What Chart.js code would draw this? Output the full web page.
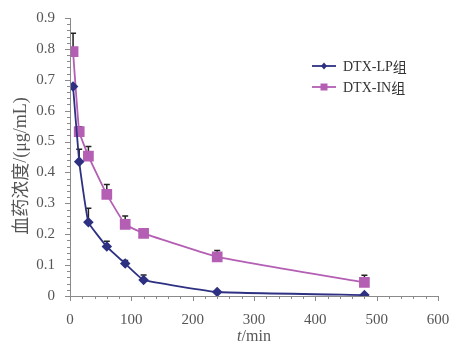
<!DOCTYPE html>
<html>
<head>
<meta charset="utf-8">
<script src="https://cdn.jsdelivr.net/npm/chart.js@4/dist/chart.umd.min.js"></script>
<style>
  html, body { margin: 0; background: #fff; }
  #wrap { width: 449px; height: 344px; }
</style>
</head>
<body>
<div id="wrap"><canvas id="c"></canvas></div>
<script>
const times = [5, 15, 30, 60, 90, 120, 240, 480];
const lpMean = [0.678, 0.435, 0.239, 0.160, 0.105, 0.052, 0.013, 0.003];
const lpErr = [0, 0.04, 0.045, 0.017, 0.01, 0.016, 0.003, 0.002];
const inMean = [0.791, 0.532, 0.453, 0.329, 0.232, 0.203, 0.127, 0.044];
const inErr = [0.06, 0.016, 0.031, 0.032, 0.027, 0.013, 0.02, 0.023];
const seriesNames = ["DTX-LP组", "DTX-IN组"];
const yTitle = ["血药浓度", "/(μg/mL)"];

const LP_COLOR = "#2e3182";
const IN_COLOR = "#b45fb4";
const AXIS_COLOR = "#8a8a8a";
const TEXT_COLOR = "#555";
const SERIF = "'Liberation Serif', 'DejaVu Serif', serif";
const CJK = "'Noto Sans CJK SC'";

const toPoints = (mean) => times.map((t, i) => ({ x: t, y: mean[i] }));

// upper-only error bars, drawn under the markers
const errorBars = {
  id: "errorBars",
  beforeDatasetsDraw(chart) {
    const { ctx, scales: { x, y } } = chart;
    const errs = [lpErr, inErr];
    const means = [lpMean, inMean];
    ctx.save();
    ctx.strokeStyle = "#222";
    ctx.lineWidth = 1.5;
    errs.forEach((err, s) => {
      times.forEach((t, i) => {
        if (!err[i]) return;
        const px = x.getPixelForValue(t);
        const y0 = y.getPixelForValue(means[s][i]);
        const y1 = y.getPixelForValue(means[s][i] + err[i]);
        ctx.beginPath();
        ctx.moveTo(px, y0);
        ctx.lineTo(px, y1);
        ctx.moveTo(px - 3, y1);
        ctx.lineTo(px + 3, y1);
        ctx.stroke();
      });
    });
    ctx.restore();
  }
};

// axis lines with major and minor ticks, titles, legend
const axesDraw = {
  id: "axesDraw",
  afterDraw(chart) {
    const { ctx, chartArea: a, scales: { x, y } } = chart;
    ctx.save();
    ctx.strokeStyle = AXIS_COLOR;
    ctx.lineWidth = 1;
    ctx.beginPath();
    ctx.moveTo(a.left + 0.5, a.top);
    ctx.lineTo(a.left + 0.5, a.bottom + 0.5);
    ctx.lineTo(a.right, a.bottom + 0.5);
    for (let v = 0; v <= 600; v += 20) {
      const px = Math.round(x.getPixelForValue(v)) + 0.5;
      const len = v % 100 === 0 ? 5 : 3;
      ctx.moveTo(px, a.bottom);
      ctx.lineTo(px, a.bottom + len);
    }
    for (let k = 0; k <= 45; k++) {
      const py = Math.round(y.getPixelForValue(k * 0.02)) + 0.5;
      const len = k % 5 === 0 ? 5 : 3;
      ctx.moveTo(a.left, py);
      ctx.lineTo(a.left - len, py);
    }
    ctx.stroke();

    // x title with italic t
    ctx.fillStyle = TEXT_COLOR;
    ctx.textBaseline = "alphabetic";
    const cx = (a.left + a.right) / 2;
    ctx.font = "italic 16px " + SERIF;
    const wT = ctx.measureText("t").width;
    ctx.font = "16px " + SERIF;
    const wRest = ctx.measureText("/min").width;
    const startX = cx - (wT + wRest) / 2;
    ctx.font = "italic 16px " + SERIF;
    ctx.fillText("t", startX, 341);
    ctx.font = "16px " + SERIF;
    ctx.fillText("/min", startX + wT, 341);

    // y title, rotated
    ctx.save();
    ctx.translate(20, 166);
    ctx.rotate(-Math.PI / 2);
    ctx.textBaseline = "middle";
    ctx.font = "18px " + CJK;
    const w1 = ctx.measureText(yTitle[0]).width;
    ctx.font = "18px " + SERIF;
    const w2 = ctx.measureText(yTitle[1]).width;
    const sx = -(w1 + w2) / 2;
    ctx.font = "18px " + CJK;
    ctx.fillText(yTitle[0], sx, 0);
    ctx.font = "18px " + SERIF;
    ctx.fillText(yTitle[1], sx + w1, 1);
    ctx.restore();

    // legend: line + marker + label
    const colors = [LP_COLOR, IN_COLOR];
    const lx = 312;
    seriesNames.forEach((name, i) => {
      const ly = 66 + i * 21;
      ctx.strokeStyle = colors[i];
      ctx.fillStyle = colors[i];
      ctx.lineWidth = 1.8;
      ctx.beginPath();
      ctx.moveTo(lx, ly);
      ctx.lineTo(lx + 24, ly);
      ctx.stroke();
      const mx = lx + 12;
      ctx.beginPath();
      if (i === 0) {
        ctx.moveTo(mx, ly - 3.5);
        ctx.lineTo(mx + 3, ly);
        ctx.lineTo(mx, ly + 3.5);
        ctx.lineTo(mx - 3, ly);
        ctx.closePath();
      } else {
        ctx.rect(mx - 3.5, ly - 3.5, 7, 7);
      }
      ctx.fill();
      const latin = name.replace("组", "");
      ctx.fillStyle = "#333";
      ctx.font = "14px " + SERIF;
      ctx.textBaseline = "middle";
      ctx.fillText(latin, lx + 31, ly + 1);
      const w = ctx.measureText(latin).width;
      ctx.font = "14px " + CJK;
      ctx.fillText("组", lx + 31 + w, ly + 1);
    });
    ctx.restore();
  }
};

new Chart(document.getElementById("c"), {
  type: "line",
  data: {
    datasets: [
      {
        label: seriesNames[0],
        data: toPoints(lpMean),
        borderColor: LP_COLOR,
        backgroundColor: LP_COLOR,
        borderWidth: 1.8,
        tension: 0.1,
        pointStyle: "rectRot",
        pointRadius: 4
      },
      {
        label: seriesNames[1],
        data: toPoints(inMean),
        borderColor: IN_COLOR,
        backgroundColor: IN_COLOR,
        borderWidth: 1.8,
        tension: 0.1,
        pointStyle: "rect",
        pointRadius: 6.3
      }
    ]
  },
  options: {
    responsive: true,
    maintainAspectRatio: false,
    animation: false,
    layout: { padding: { top: 18, right: 11, left: 0, bottom: 0 } },
    scales: {
      x: {
        type: "linear",
        min: 0,
        max: 600,
        grid: { display: false },
        border: { display: false },
        ticks: {
          stepSize: 100,
          padding: 7,
          maxRotation: 0,
          color: TEXT_COLOR,
          font: { family: SERIF, size: 15 }
        },
        afterFit(scale) {
          scale.height = 48;
          scale.paddingLeft = 0;
          scale.paddingRight = 0;
        }
      },
      y: {
        min: 0,
        max: 0.9,
        grid: { display: false },
        border: { display: false },
        ticks: {
          stepSize: 0.1,
          padding: 7,
          color: TEXT_COLOR,
          font: { family: SERIF, size: 15 },
          callback: (v) => (Math.round(v * 10) / 10).toString()
        },
        afterFit(scale) {
          scale.width = 70;
          scale.paddingTop = 0;
          scale.paddingBottom = 0;
        }
      }
    },
    plugins: {
      legend: { display: false },
      tooltip: { enabled: false }
    }
  },
  plugins: [errorBars, axesDraw]
});
</script>
</body>
</html>
